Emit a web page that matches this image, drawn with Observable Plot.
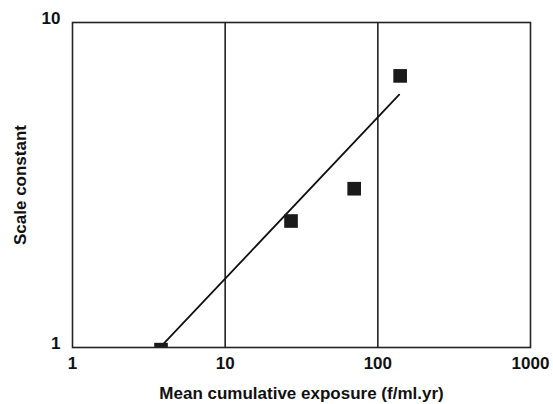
<!DOCTYPE html>
<html><head><meta charset="utf-8">
<script src="https://cdn.jsdelivr.net/npm/d3@7"></script>
<script src="https://cdn.jsdelivr.net/npm/@observablehq/plot@0.6"></script>
<style>
html,body{margin:0;padding:0;background:#fff;}
svg{font-family:"Liberation Sans",Arial,sans-serif;}
</style></head>
<body><div id="chart"></div>
<script>
const exposure = [3.8, 27, 70, 140];
const scaleConstant = [0.985, 2.45, 3.08, 6.85];
const fitExposure = [3.9, 138];
const fitScale = [1.02, 6.0];
const xTicks = [1, 10, 100, 1000];
const yTicks = [1, 10];
const gridX = [10, 100];

const pts = exposure.map((x, i) => ({x, y: scaleConstant[i]}));
const fit = fitExposure.map((x, i) => ({x, y: fitScale[i]}));

const chart = Plot.plot({
  width: 553, height: 404,
  marginLeft: 72, marginRight: 23, marginTop: 22, marginBottom: 57,
  style: {fontFamily: '"Liberation Sans", Arial, sans-serif', fontSize: "17px", fontWeight: "bold", color: "#111", background: "#fff"},
  x: {type: "log", domain: [1, 1000]},
  y: {type: "log", domain: [1, 10]},
  marks: [
    Plot.ruleX(gridX, {stroke: "#222", strokeWidth: 1.6}),
    Plot.line(fit, {x: "x", y: "y", stroke: "#111", strokeWidth: 1.8}),
    Plot.dot(pts, {x: "x", y: "y", symbol: "square", r: 7.7, fill: "#1a1a1a", stroke: "none", clip: true}),
    Plot.frame({stroke: "#222", strokeWidth: 1.6}),
    Plot.axisX(xTicks, {tickSize: 0, tickPadding: 9, tickFormat: d => String(d), fontSize: 17, fontWeight: "bold",
      label: "Mean cumulative exposure (f/ml.yr)", labelAnchor: "center", labelArrow: "none", labelOffset: 51}),
    Plot.axisY(yTicks, {tickSize: 0, tickPadding: 12, dy: -4, tickFormat: d => String(d), fontSize: 17, fontWeight: "bold",
      label: "Scale constant", labelAnchor: "center", labelArrow: "none", labelOffset: 59})
  ]
});
document.getElementById("chart").appendChild(chart);
</script></body></html>
